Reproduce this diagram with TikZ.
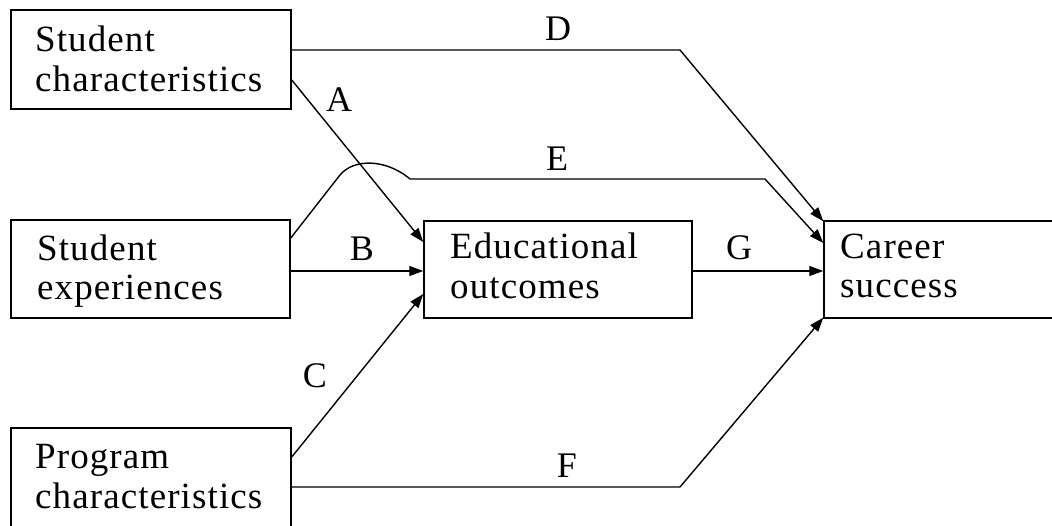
\documentclass[tikz,border=0pt]{standalone}
\usepackage{fontspec}
\setmainfont{Liberation Serif}[LetterSpace=3]
\usetikzlibrary{arrows.meta}
\begin{document}
\begin{tikzpicture}[x=1pt,y=-1pt,
  box/.style={draw=black, line width=1.5pt, rectangle, inner sep=0pt},
  txt/.style={anchor=base west, inner sep=0pt, font=\fontsize{37}{40}\selectfont},
  lbl/.style={anchor=base, inner sep=0pt, font=\fontsize{36}{40}\selectfont},
  conn/.style={line width=1.4pt, line join=round},
  arr/.style={conn, -{Triangle[length=14pt,width=10pt]}}]
\useasboundingbox[fill=white] (0,0) rectangle (1052,525);
% boxes
\node[box, minimum width=280pt, minimum height=99pt] (sc) at (151,59.5) {};
\node[box, minimum width=279pt, minimum height=98pt] (se) at (150.5,269) {};
\node[box, minimum width=280pt, minimum height=107pt] (pc) at (151,481.5) {};
\node[box, minimum width=268pt, minimum height=97pt] (ed) at (558,269.5) {};
\node[box, minimum width=250pt, minimum height=97pt] (cs) at (949,269.5) {};
% texts
\node[txt] (sc1) at (35,51) {Student};
\node[txt] (sc2) at (35,91) {characteristics};
\node[txt] (se1) at (37,260) {Student};
\node[txt] (se2) at (37,299) {experiences};
\node[txt] (pc1) at (35,468) {Program};
\node[txt] (pc2) at (35,508) {characteristics};
\node[txt] (ed1) at (450,258) {Educational};
\node[txt] (ed2) at (450,298) {outcomes};
\node[txt] (cs1) at (840,258) {Career};
\node[txt] (cs2) at (840,297) {success};
% connectors
\draw[arr] (sc.east |- 0,50) -- (680,50) -- ([yshift=-1pt]cs.north west);
\draw[arr] (se.east |- 0,238) -- (340,175) .. controls (353,159) and (385,158) .. (410,179) -- (765,179) -- (cs.west |- 0,243);
\draw[arr] (sc.east |- 0,80) -- (ed.west |- 0,242);
\draw[arr] (se.east |- 0,271) -- (ed.west |- 0,271);
\draw[arr] (pc.east |- 0,457) -- (ed.west |- 0,294);
\draw[arr] (ed.east |- 0,271) -- (cs.west |- 0,271);
\draw[arr] (pc.east |- 0,487) -- (680,487) -- ([yshift=1pt]cs.south west);
% labels
\node[lbl] (lD) at (558,40) {D};
\node[lbl] (lE) at (557,170) {E};
\node[lbl] (lA) at (339,111) {A};
\node[lbl] (lB) at (362,260) {B};
\node[lbl] (lG) at (739,259) {G};
\node[lbl] (lC) at (315,387) {C};
\node[lbl] (lF) at (567,477) {F};
\end{tikzpicture}
\end{document}
